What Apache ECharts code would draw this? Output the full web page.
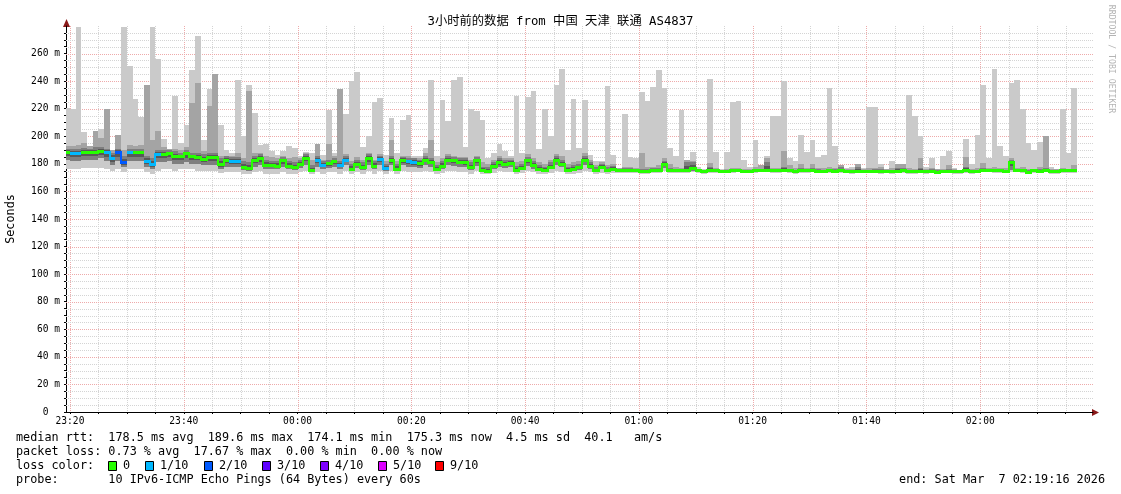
<!DOCTYPE html>
<html><head><meta charset="utf-8">
<script src="https://cdn.jsdelivr.net/npm/echarts@6/dist/echarts.min.js"></script>
<style>html,body{margin:0;padding:0;background:#fff}#c{width:1121px;height:494px}</style>
</head><body><div id="c"></div>
<script>
// ---------- data ----------
const chartTitle = '3小时前的数据 from 中国 天津 联通 AS4837';
const firstSampleMinute = 19;          // first sample starts at 23:19 (minutes after 23:00)
const axisStartMinute = 19.3;          // 23:19:18
const axisEndMinute = 199.82;          // ~02:19:49
const xTickValues = [20, 40, 60, 80, 100, 120, 140, 160, 180];
const xTickLabels = ['23:20', '23:40', '00:00', '00:20', '00:40', '01:00', '01:20', '01:40', '02:00'];
const yTickValues = [0, 20, 40, 60, 80, 100, 120, 140, 160, 180, 200, 220, 240, 260];
const yAxisName = 'Seconds';

// highest ping per minute (ms)
const pingMax = [220.5,220.0,279.0,203.0,191.0,204.0,205.0,220.0,190.0,201.0,
 279.0,251.0,227.0,214.0,237.0,279.0,256.0,198.0,191.0,229.0,
 195.0,208.0,248.0,272.5,197.0,234.5,245.0,208.0,190.0,188.0,
 241.0,200.0,237.5,217.0,194.0,194.5,189.0,186.6,189.0,193.0,
 191.7,186.0,188.8,187.8,194.6,186.6,218.8,188.0,234.6,216.0,
 240.0,246.7,192.0,200.0,225.0,228.0,186.6,213.0,187.8,212.0,
 215.7,185.4,185.4,191.5,240.6,185.4,226.5,211.0,241.0,243.0,
 192.5,219.5,218.5,212.0,184.0,188.0,194.6,189.0,185.4,229.5,
 188.0,228.5,233.0,191.0,219.8,200.4,237.5,249.0,190.0,227.0,
 191.7,226.0,186.6,181.8,181.8,236.8,186.6,177.0,216.0,185.0,
 184.0,232.0,225.4,236.0,248.4,235.0,191.5,186.0,218.8,183.0,
 188.8,178.0,176.5,241.8,188.8,176.5,188.8,224.6,225.4,182.5,
 178.0,197.5,179.4,185.4,215.0,214.5,240.4,184.2,181.8,201.2,
 188.3,197.5,185.0,186.6,234.8,192.7,179.0,177.0,177.5,180.0,
 177.0,221.0,221.0,180.0,176.5,181.8,180.0,180.0,230.2,214.5,
 200.4,178.0,184.0,176.5,185.4,189.5,177.0,175.5,198.3,180.0,
 201.2,237.5,184.0,249.0,192.7,185.4,239.0,241.0,220.0,195.0,
 190.3,195.8,200.0,178.0,176.5,219.8,187.8,235.0];

// second highest ping (ms)
const pingUpper = [193,193,194,195,193,204,199,220,190,201,
 190,194,193,194,237,197,204,192,191,191,
 190,192,224,239,189,222,245,186,186,186,
 188,184,233,188,188,186,185,184,186,184,
 185,184,188,183,194.6,183,194.6,186,234.6,187,
 182,185,183,188,183,187,182,197.5,182,186,
 186,184,184,188,197.5,181,184,187,186,185,
 185,183,186,181,180,183,186,184,184,181,
 182,187,184,181,180,183,187,186,180,181,
 182,188,183,179,181,179,180,177,178,178,
 177,188,178,178,179,184,180,178,177,183,
 182,176.5,175.5,180.5,177,175.5,176.5,177,177,176,
 176.5,178,179.4,184.5,177,177,189.5,179,177,180,
 177,180,177,177,178,177,179,176,176.5,180,
 176,177,177,178,176,177,180,180,177,176.5,
 184,176.5,177,176,176.5,179.5,176,175.5,184.7,176.5,
 177,180.5,177,178,177,177,184,177,178,176.5,
 176.5,178,200,176.5,176,177,176.5,179];

// upper edge of the dense pings around the median (ms)
const pingDenseHigh = [191,190.5,191,191.5,191,192,192,191,188,191,
 186,191,191,191,186,184,190,190,190,189,
 188,190,188,188,187,188,188,184,186,185,
 185,182,181,186,187,183,182,182,185,182,
 181,183,187,179,186,182,183,184,182,186,
 180,183,181,187,182,186,180,186,180,185,
 184,184,183,186,184,179,182,186,185,184,
 184,181,185,178,177.5,181,184,183,183,178.5,
 180,185,182,179,178,181,186,183,178,179,
 180,186,181,177.5,180,177.5,178.5,176.5,177,177,
 176.5,176.5,176.5,177,177,182,177,176.5,176.5,181,
 181,176,175.7,178,176.2,175.6,175.8,176,176.2,175.6,
 175.9,176.5,176.5,181,176,176.3,178,176,175.6,177,
 176.2,177,176,175.8,176.2,176,177.5,175.6,175.5,177.5,
 175.8,175.8,176,176.5,175.6,175.6,177,177,175.7,175.6,
 177,175.4,176,175.2,175.7,176.5,175.4,175.2,178,175.3,
 175.6,177,176.2,176.5,176,175.9,183,176.4,176.5,175.2,
 176,176.5,177,175.4,175.5,176.1,176,176.5];

// median rtt (ms)
const medianRtt = [188.8,187.8,188.0,188.8,188.8,188.8,189.5,188.6,184.2,188.6,
 181.0,188.3,188.3,188.3,182.3,179.6,187.4,186.9,187.8,185.9,
 185.4,187.6,185.4,185.2,183.5,185.0,185.0,179.6,182.8,182.0,
 182.0,178.0,177.0,183.0,184.0,179.3,179.0,178.6,182.5,178.8,
 178.0,180.0,184.5,175.7,182.8,179.0,180.3,181.8,178.9,183.0,
 176.5,180.0,177.7,184.2,178.6,183.5,177.0,182.8,176.5,182.8,
 181.8,181.0,180.6,183.0,181.3,176.0,178.8,183.0,182.5,181.3,
 181.0,177.5,182.5,175.5,174.7,178.3,181.0,179.8,180.8,175.6,
 177.0,182.7,179.0,176.5,175.5,178.0,183.0,180.0,175.5,176.5,
 177.4,183.0,178.6,175.5,178.0,175.5,176.3,175.3,175.5,175.5,
 175.3,174.8,174.8,175.3,175.3,180.0,175.5,175.3,175.2,175.5,
 177.0,175.2,174.8,175.6,175.3,174.8,175.0,175.2,175.4,174.9,
 175.1,175.3,175.5,175.5,175.2,175.3,175.5,175.2,174.8,175.5,
 175.3,175.6,175.1,174.9,175.2,175.1,175.3,174.8,174.7,175.0,
 175.1,174.9,175.1,174.8,174.9,174.8,175.0,175.2,174.9,174.8,
 175.0,174.6,175.0,174.4,174.9,175.0,174.7,174.5,175.3,174.5,
 174.9,175.5,175.4,175.3,175.2,175.1,181.5,175.6,175.2,174.4,
 175.3,175.0,175.5,174.6,174.7,175.3,175.3,175.3];

// lower edge of the dense pings around the median (ms)
const pingDenseLow = [183,182,182,183,183,183,184,182,179,182,
 178,182,182,182,178,176.5,181,181,182,180,
 180,181,180,180,179,179,179,176.5,178,178,
 178,175.5,175,178,179,176,176,176,178,176,
 175.5,177,179,174.5,178,176,177,178,176,179,
 174.5,177,175.5,179,176,179,175,179,174.5,179,
 178,177.5,177,179,178,174.5,176,179,178.5,178,
 178,175.5,178.5,174.2,173.8,176,178,177,177.5,174.5,
 175.5,178.5,176.5,175,174.5,176,179,177.5,174.5,175,
 175.5,179,176,174.5,176,174.5,175,174.5,174.5,174.5,
 174.5,174,174,174.5,174.5,177,174.5,174.5,174.5,174.8,
 175,174.6,174.2,175,174.7,174.2,174.4,174.6,174.8,174.3,
 174.5,174.7,174.9,174.9,174.6,174.7,174.9,174.6,174.2,174.9,
 174.7,175,174.5,174.3,174.6,174.5,174.7,174.2,174.1,174.4,
 174.5,174.3,174.5,174.2,174.3,174.2,174.4,174.6,174.3,174.2,
 174.4,174,174.4,173.8,174.3,174.4,174.1,173.9,174.7,173.9,
 174.3,174.9,174.8,174.7,174.6,174.5,175.5,175,174.6,173.8,
 174.7,174.4,174.9,174,174.1,174.7,174.7,174.7];

// lowest ping (ms)
const pingMin = [176,176,176.5,177,177,177,177,176,175,176,
 174,176,176,176,174,173,175,176,176,175,
 176,176,176,175,175,175,174.5,173.5,174,174,
 174,172.5,172.5,174,175,173,173,173,174,173,
 173,174,175,172.5,174,173,174,174,173,175,
 172.5,174,173,175,173,174.5,172.5,175,172.5,175,
 174,174,174,175,174,172.5,173.5,175,175,174,
 174,173,174.5,172.5,172.5,173.5,174.5,174,174,173,
 173.5,174.5,174,173,173,173.5,175,174,173,173,
 173.5,175,174,173,173.5,173,173.5,173.5,173.5,173.5,
 173.5,173,173,173.5,173.5,174.5,173.5,173.5,173.5,173.5,
 174,173.5,173,173.5,173.5,173.5,173.5,173.5,173.8,173.5,
 173.5,173.5,174,174,173.5,173.5,174,173.5,173,173.5,
 173.5,174,173.5,173.5,173.5,173.5,173.5,173.2,173,173.5,
 173.5,173.5,173.5,173,173.5,173,173.5,173.5,173,173,
 173.5,173,173.5,172.8,173.5,173.5,173,173,173.5,172.8,
 173.5,173.8,174,173.5,173.5,173.5,174,174,173.5,172.8,
 173.5,173.3,174,173,173,173.5,173.5,173.5];

// lost pings out of 10 per minute
const lossTenths = [0,1,1,0,0,0,0,1,1,2,
 2,1,0,0,1,1,1,0,0,0,
 0,0,0,0,0,0,0,0,0,1,
 1,0,0,0,0,0,0,0,0,0,
 0,0,0,0,1,1,0,0,1,1,
 0,0,0,0,0,1,1,0,0,0,
 1,1,0,0,0,0,0,0,0,0,
 0,0,0,0,0,0,0,0,0,0,
 0,0,0,0,0,0,0,0,0,0,
 0,0,0,0,0,0,0,0,0,0,
 0,0,0,0,0,0,0,0,0,0,
 0,0,0,0,0,0,0,0,0,0,
 0,0,0,0,0,0,0,0,0,0,
 0,0,0,0,0,0,0,0,0,0,
 0,0,0,0,0,0,0,0,0,0,
 0,0,0,0,0,0,0,0,0,0,
 0,0,0,0,0,0,0,0,0,0,
 0,0,0,0,0,0,0,0];

const lossLabels = ['0', '1/10', '2/10', '3/10', '4/10', '5/10', '9/10'];
const lossLevels = [0, 1, 2, 3, 4, 5, 9];
const lossColorList = ['#26ff00', '#00b8ff', '#0059ff', '#5e00ff', '#7e00ff', '#dd00ff', '#ff0000'];

const statsLines = [
  'median rtt:  178.5 ms avg  189.6 ms max  174.1 ms min  175.3 ms now  4.5 ms sd  40.1   am/s',
  'packet loss: 0.73 % avg  17.67 % max  0.00 % min  0.00 % now',
  'loss color:',
  'probe:       10 IPv6-ICMP Echo Pings (64 Bytes) every 60s'
];
const endText = 'end: Sat Mar  7 02:19:16 2026';
const watermark = 'RRDTOOL / TOBI OETIKER';

// ---------- build ----------
function lossColor(l) {
  let idx = 0;
  for (let j = 0; j < lossLevels.length; j++) if (l >= lossLevels[j]) idx = j;
  return lossColorList[idx];
}
const n = medianRtt.length;
const smokeData = [];
for (let i = 0; i < n; i++) {
  smokeData.push([firstSampleMinute + i, firstSampleMinute + i + 1,
    pingMin[i], pingMax[i], pingUpper[i], pingDenseLow[i], pingDenseHigh[i], medianRtt[i], lossTenths[i]]);
}
const vGrid = [];
for (let m = 20; m < axisEndMinute; m += 5) vGrid.push([m, m % 20 === 0 ? 1 : 0]);
const hGrid = [];
for (let v = 5; v < 280; v += 5) hGrid.push([v, v % 20 === 0 ? 1 : 0]);
const xMinorTicks = vGrid.map(d => d[0]);
const yMinorTicks = [];
for (let v = 0; v <= 275; v += 5) yMinorTicks.push(v);

const MONO = '"DejaVu Sans Mono", "Noto Sans CJK SC", monospace';
const MAJOR = '#eeaaaa', MINOR = '#d4d4d4';

function renderSmoke(params, api) {
  const i = params.dataIndex;
  const cs = params.coordSys;
  const xs = api.value(0), xe = api.value(1);
  let px0 = Math.round(api.coord([xs, 0])[0]);
  const px1 = Math.round(api.coord([xe, 0])[0]);
  if (px0 < cs.x) px0 = cs.x;
  const Y = v => api.coord([xs, v])[1];
  const band = (lo, hi, fill) => {
    const y1 = Math.round(Y(hi)), y2 = Math.round(Y(lo));
    return { type: 'rect', shape: { x: px0, y: y1, width: px1 - px0, height: Math.max(0, y2 - y1) }, style: { fill } };
  };
  const bot = api.value(2), top = api.value(3), upper = api.value(4), dlo = api.value(5),
        dhi = api.value(6), med = api.value(7), loss = api.value(8);
  const children = [
    band(bot, top, '#cacaca'),
    band(dlo, upper, '#a4a4a4'),
    band(dlo, dhi, '#7e7e7e'),
    band((dlo + med) / 2, (med + dhi) / 2, '#585858')
  ];
  const col = lossColor(loss);
  const my = Math.round(Y(med));
  children.push({ type: 'rect', shape: { x: px0, y: my - 1, width: px1 - px0, height: 3 }, style: { fill: col } });
  if (i > 0 && lossColor(lossTenths[i - 1]) === col) {
    const py = Math.round(Y(medianRtt[i - 1]));
    if (py !== my) children.push({ type: 'rect', shape: { x: px0 - 1, y: Math.min(py, my) - 1, width: 2, height: Math.abs(py - my) + 3 }, style: { fill: col } });
  }
  return { type: 'group', children };
}

function renderVGrid(params, api) {
  const cs = params.coordSys;
  const x = Math.round(api.coord([api.value(0), 0])[0]) + 0.5;
  return { type: 'line', shape: { x1: x, y1: cs.y, x2: x, y2: cs.y + cs.height },
    style: { stroke: api.value(1) ? MAJOR : MINOR, lineWidth: 1, lineDash: [1, 1] } };
}
function renderHGrid(params, api) {
  const cs = params.coordSys;
  const y = Math.round(api.coord([axisStartMinute, api.value(1)])[1]) + 0.5;
  return { type: 'line', shape: { x1: cs.x, y1: y, x2: cs.x + cs.width, y2: y },
    style: { stroke: api.value(2) ? MAJOR : MINOR, lineWidth: 1, lineDash: [1, 1] } };
}

const graphics = [];
graphics.push({ type: 'text', left: 'center', top: 16, style: { text: chartTitle, font: '12.3px ' + MONO, fill: '#000' } });
graphics.push({ type: 'text', x: 11, y: 219, rotation: Math.PI / 2, style: { text: yAxisName, font: '11.8px ' + MONO, fill: '#000', align: 'center', verticalAlign: 'middle' } });
graphics.push({ type: 'text', x: 1111, y: 59, rotation: -Math.PI / 2, style: { text: watermark, font: '8.2px ' + MONO, fill: '#b4b4b4', align: 'center', verticalAlign: 'middle' } });
const lineY = [438, 452, 466, 480];
statsLines.forEach((t, k) => graphics.push({ type: 'text', x: 16, y: lineY[k], style: { text: t, font: '11.8px ' + MONO, fill: '#000', verticalAlign: 'middle' } }));
graphics.push({ type: 'text', x: 1105, y: 480, style: { text: endText, font: '11.8px ' + MONO, fill: '#000', align: 'right', verticalAlign: 'middle' } });
const legendX = [108, 145, 204, 262, 320, 378, 435];
lossLabels.forEach((lab, k) => {
  graphics.push({ type: 'rect', shape: { x: legendX[k] + 0.5, y: 461.5, width: 8, height: 9 }, style: { fill: lossColorList[k], stroke: '#000', lineWidth: 1 } });
  graphics.push({ type: 'text', x: legendX[k] + 15, y: 466, style: { text: lab, font: '11.8px ' + MONO, fill: '#000', verticalAlign: 'middle' } });
});
// axis arrows
graphics.push({ type: 'polygon', shape: { points: [[66.5, 19], [63, 27], [70, 27]] }, style: { fill: '#8b1a1a' } });
graphics.push({ type: 'polygon', shape: { points: [[1099, 412.5], [1092, 409], [1092, 416]] }, style: { fill: '#8b1a1a' } });

const chart = echarts.init(document.getElementById('c'), null, { renderer: 'canvas' });
chart.setOption({
  animation: false,
  backgroundColor: '#ffffff',
  grid: { left: 66, right: 28, top: 26, bottom: 82, containLabel: false },
  xAxis: {
    type: 'value', min: axisStartMinute, max: axisEndMinute,
    axisLine: { show: true, onZero: false, lineStyle: { color: '#000', width: 1 } },
    axisTick: { show: true, length: 2, customValues: xMinorTicks, lineStyle: { color: '#000' } },
    axisLabel: { show: true, customValues: xTickValues, margin: 5, fontFamily: MONO, fontSize: 9.6, color: '#000',
      formatter: v => { const j = xTickValues.findIndex(t => Math.abs(t - v) < 1e-6); return j >= 0 ? xTickLabels[j] : ''; } },
    splitLine: { show: false }
  },
  yAxis: {
    type: 'value', min: 0, max: 280,
    axisLine: { show: true, lineStyle: { color: '#000', width: 1 } },
    axisTick: { show: true, length: 2, customValues: yMinorTicks, lineStyle: { color: '#000' } },
    axisLabel: { show: true, customValues: yTickValues, margin: 6, fontFamily: MONO, fontSize: 9.6, color: '#000',
      formatter: v => v === 0 ? '0  ' : v + ' m' },
    splitLine: { show: false }
  },
  graphic: graphics,
  series: [
    { type: 'custom', name: 'vgrid', renderItem: renderVGrid, data: vGrid, encode: { x: 0 }, silent: true, z: 1 },
    { type: 'custom', name: 'hgrid', renderItem: renderHGrid, data: hGrid.map(d => [axisStartMinute, d[0], d[1]]), encode: { x: 0, y: 1 }, silent: true, z: 1 },
    { type: 'custom', name: 'smoke', renderItem: renderSmoke, data: smokeData, encode: { x: [0, 1], y: [2, 3] }, silent: true, z: 2 }
  ]
});
</script>
</body></html>
